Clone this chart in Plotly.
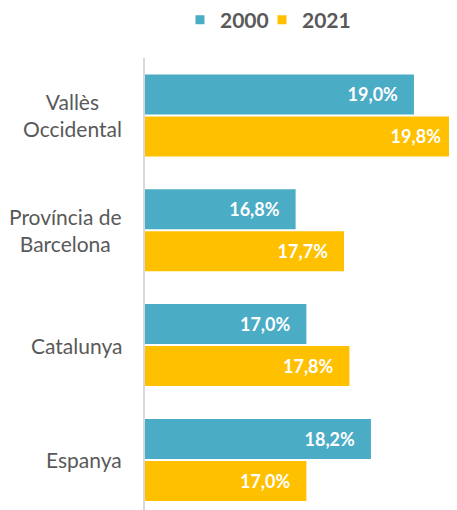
import plotly.graph_objects as go

categories = ["Vallès Occidental", "Província de Barcelona", "Catalunya", "Espanya"]
category_labels = ["Vallès<br>Occidental", "Província de<br>Barcelona", "Catalunya", "Espanya"]
values_2000 = [19.0, 16.8, 17.0, 18.2]
values_2021 = [19.8, 17.7, 17.8, 17.0]
series_names = ["2000", "2021"]

BLUE = "#4BACC6"
GOLD = "#FFC000"
GREY = "#595959"
PAD = "\u00a0" * 3

fig = go.Figure()
for name, vals, col in [(series_names[0], values_2000, BLUE), (series_names[1], values_2021, GOLD)]:
    fig.add_trace(go.Bar(
        name=name, x=vals, y=categories, orientation="h",
        marker=dict(color=col, line=dict(width=0)),
        texttemplate="%{x:.1f}%" + PAD,
        textposition="inside", insidetextanchor="end", textangle=0,
        insidetextfont=dict(family="Lato", size=18, color="white", weight="bold"),
        constraintext="none", showlegend=False, legendgroup=name,
    ))

# legend entries with small square swatches (one legend box per series)
for name, col, lg in [(series_names[0], BLUE, "legend"), (series_names[1], GOLD, "legend2")]:
    fig.add_trace(go.Scatter(
        name=name, x=[None], y=[None], mode="markers", legendgroup=name,
        marker=dict(symbol="square", size=9, color=col), showlegend=True,
        legend=lg,
    ))

for cat, lab in zip(categories, category_labels):
    fig.add_annotation(
        x=0, xref="paper", y=cat, yref="y", xanchor="right", yanchor="middle",
        xshift=-21, text=lab, showarrow=False, align="center",
        font=dict(family="Lato", size=21, color=GREY),
    )

legend_style = dict(orientation="h", xref="container", yref="container",
                    y=0.976, xanchor="left", yanchor="middle",
                    font=dict(family="Lato", size=21, color=GREY, weight="bold"),
                    itemwidth=30, bgcolor="rgba(0,0,0,0)")

# page body has an 8px margin, so the figure is offset by 8px
fig.update_layout(
    width=449, height=502,
    margin=dict(l=137, r=0, t=50, b=0),
    paper_bgcolor="white", plot_bgcolor="white",
    barmode="group", bargap=0.268, bargroupgap=0.048,
    separators=",.",
    showlegend=True,
    legend=dict(x=0.383, **legend_style),
    legend2=dict(x=0.5657, **legend_style),
    xaxis=dict(range=[14, 19.8], showgrid=False, zeroline=False,
               showticklabels=False, showline=False, fixedrange=True),
    yaxis=dict(type="category", categoryorder="array", categoryarray=categories,
               range=[3.436, -0.5], showgrid=False, zeroline=False,
               showticklabels=False, showline=True, linecolor="#D9D9D9",
               linewidth=2, ticks=""),
)

fig.write_html("out.html")
